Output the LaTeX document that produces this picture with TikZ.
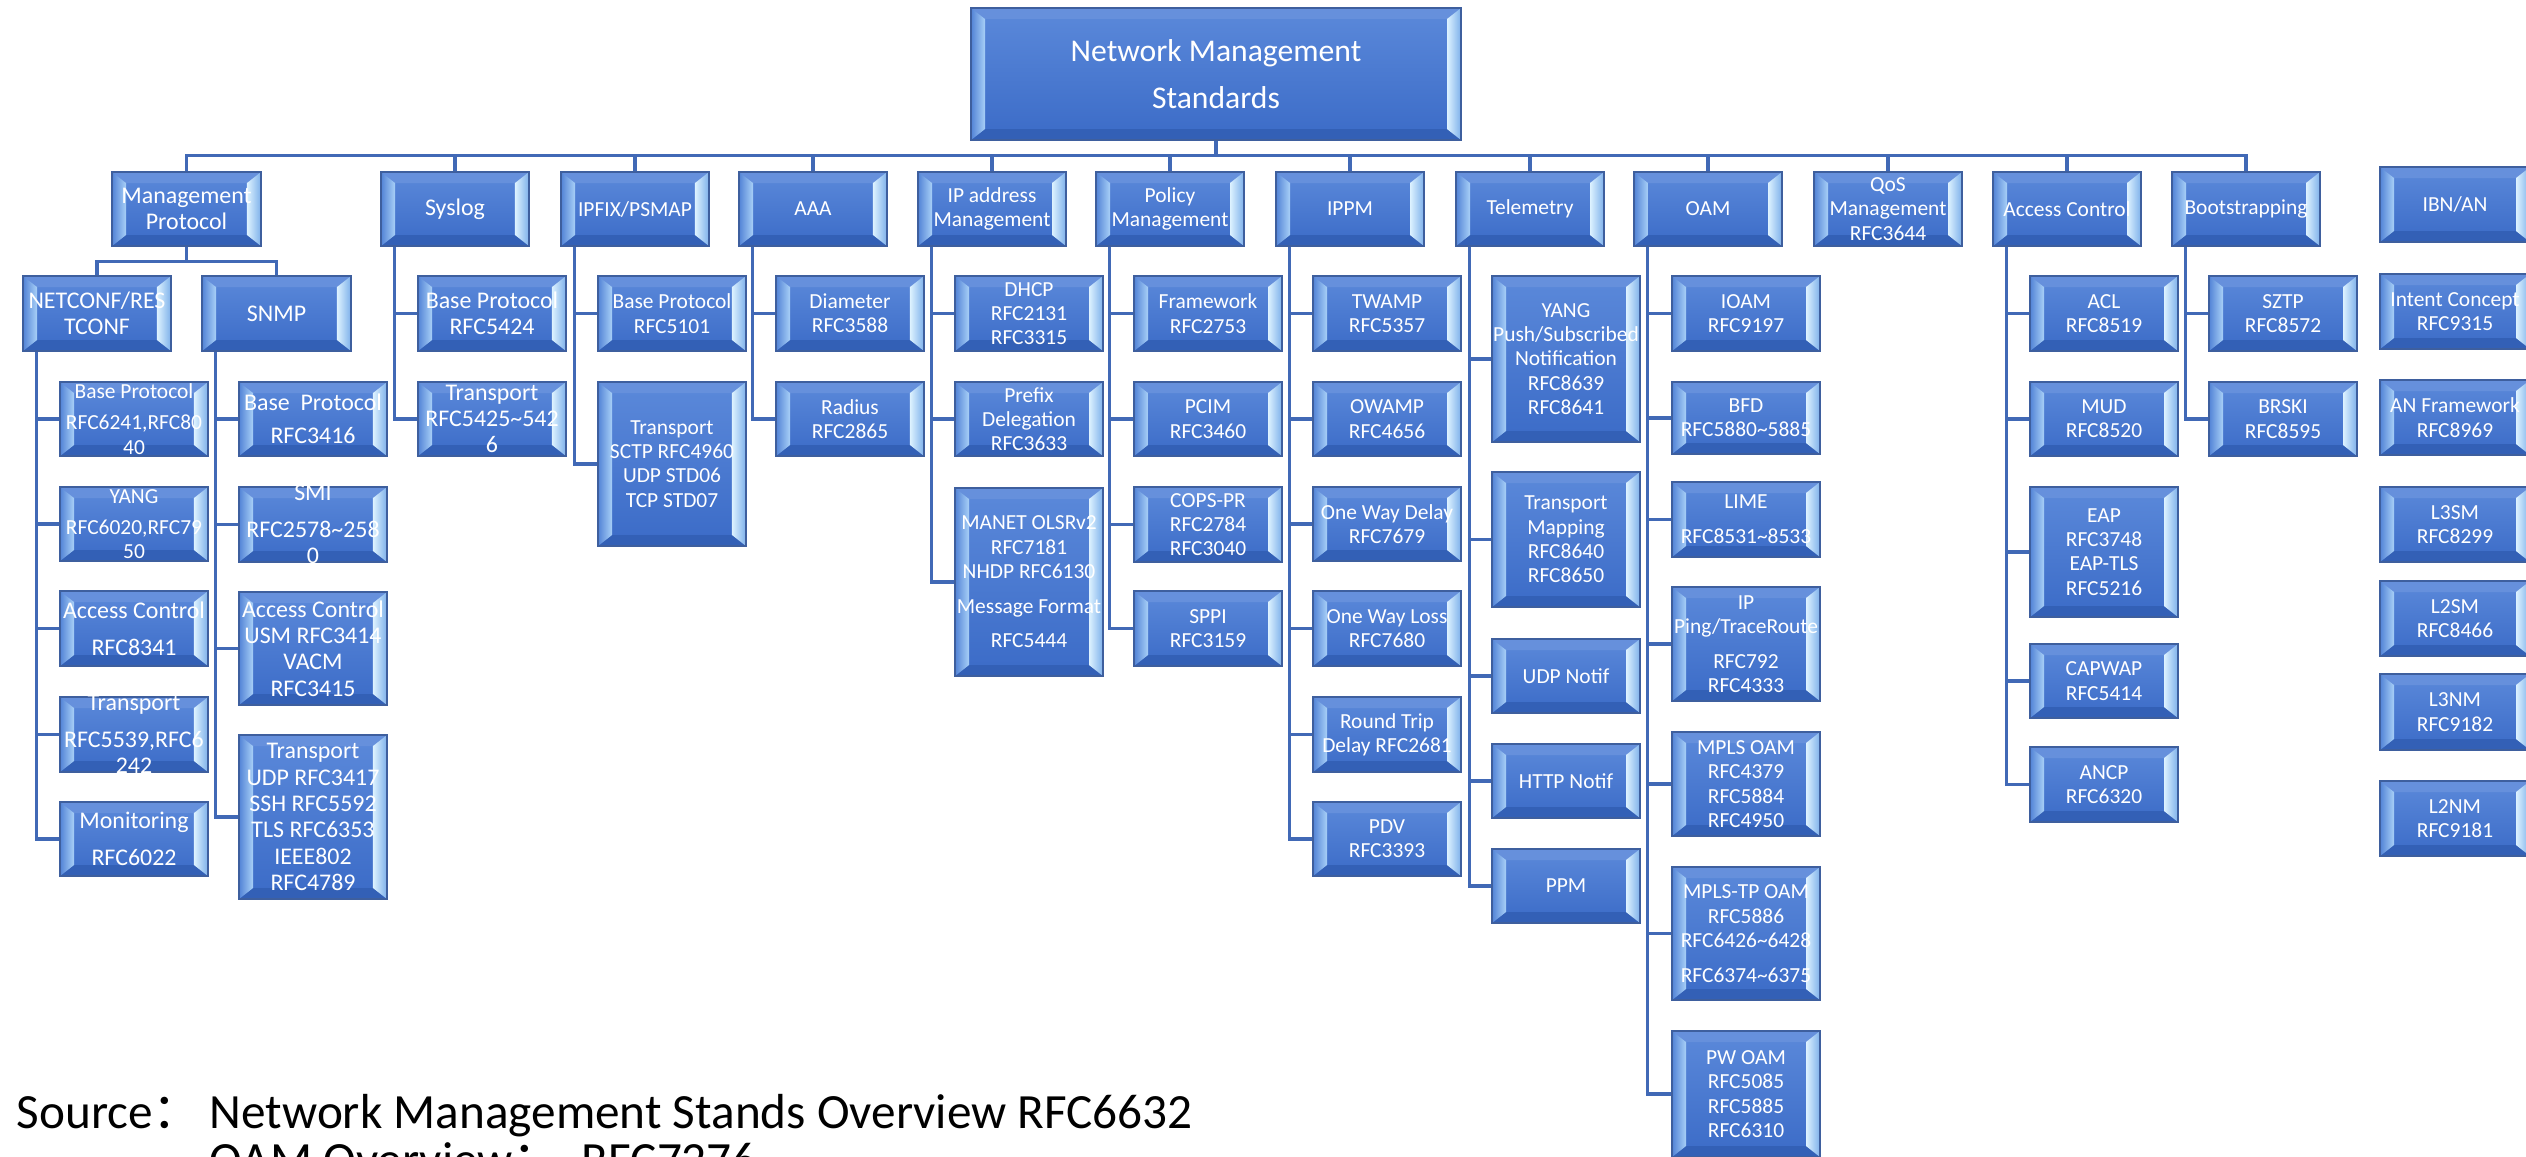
\documentclass[tikz,border=0pt]{standalone}
\usepackage{fontspec}
\setmainfont{Carlito}
\newfontfamily\cjk{Noto Sans CJK SC}

% box and connector colours
\definecolor{bxtop}{HTML}{5B89DA}
\definecolor{bxbot}{HTML}{3B6BC7}
\definecolor{bxborder}{HTML}{3E5F9E}
\definecolor{bevLo}{HTML}{5283D6}
\definecolor{bevLi}{HTML}{A8D0F7}
\definecolor{bevRi}{HTML}{DDF2FF}
\definecolor{bevRo}{HTML}{7DB0EA}
\definecolor{bevT}{HTML}{6690DC}
\definecolor{bevB}{HTML}{3360B6}
\definecolor{connc}{HTML}{4169B6}

% text sizes
\newcommand\fsA{\fontsize{6.1}{6.9}\selectfont}
\newcommand\fsB{\fontsize{6.8}{7.5}\selectfont}
\newcommand\fsR{\fontsize{9}{13.5}\selectfont}
\newcommand\fsS{\fontsize{14}{17}\selectfont}

% bevel insets
\def\bvlH{0.14cm}
\def\bvlV{0.11cm}

\tikzset{
  bx/.style={rectangle, draw=bxborder, line width=0.4pt, inner sep=0pt,
    top color=bxtop, bottom color=bxbot,
    path picture={
      \path (path picture bounding box.south west) coordinate (pSW)
            (path picture bounding box.north east) coordinate (pNE)
            (path picture bounding box.north west) coordinate (pNW)
            (path picture bounding box.south east) coordinate (pSE);
      \fill[bevT] (pNW) -- (pNE) -- ([shift={(-\bvlH,-\bvlV)}]pNE) -- ([shift={(\bvlH,-\bvlV)}]pNW) -- cycle;
      \fill[bevB] (pSW) -- (pSE) -- ([shift={(-\bvlH,\bvlV)}]pSE) -- ([shift={(\bvlH,\bvlV)}]pSW) -- cycle;
      \shade[left color=bevLo, right color=bevLi] (pSW) -- (pNW) -- ([shift={(\bvlH,-\bvlV)}]pNW) -- ([shift={(\bvlH,\bvlV)}]pSW) -- cycle;
      \shade[left color=bevRi, right color=bevRo] (pSE) -- (pNE) -- ([shift={(-\bvlH,-\bvlV)}]pNE) -- ([shift={(-\bvlH,\bvlV)}]pSE) -- cycle;
    }},
  txt/.style={text=white, align=center, inner sep=0pt, font=\fsA},
  conn/.style={draw=connc, line width=0.95pt},
}

% [text options]{name}{left}{top}{width}{height}{text}, in pixel units
\newcommand\mkbox[7][]{%
  \node[bx, minimum width=#5*0.01cm, minimum height=#6*0.01cm] (#2) at ({#3+#5/2},{#4+#6/2}) {};
  \node[txt,#1] (#2-t) at (#2.center) {#7};}

\begin{document}
\begin{tikzpicture}[x=0.01cm,y=-0.01cm]
\useasboundingbox (0,0) rectangle (2526,1156);
\fill[white] (0,0) rectangle (2526,1156);
\clip (0,0) rectangle (2526,1156);

% root
\mkbox[font=\fsR]{root}{971}{8}{490}{132}{Network Management\\Standards}

% first level
\mkbox[font=\fsB]{mp}{112}{172}{149}{74}{Management\\Protocol}
\mkbox[font=\fsB]{sys}{381}{172}{148}{74}{Syslog}
\mkbox{ipfix}{561}{172}{148}{74}{IPFIX/PSMAP}
\mkbox{aaa}{739}{172}{148}{74}{AAA}
\mkbox{ipm}{918}{172}{148}{74}{IP address\\Management}
\mkbox{pol}{1096}{172}{148}{74}{Policy\\Management}
\mkbox{ippm}{1276}{172}{148}{74}{IPPM}
\mkbox{tel}{1456}{172}{148}{74}{Telemetry}
\mkbox{oam}{1634}{172}{148}{74}{OAM}
\mkbox{qos}{1814}{172}{148}{74}{QoS\\Management\\RFC3644}
\mkbox{acc}{1993}{172}{148}{74}{Access Control}
\mkbox{boot}{2172}{172}{148}{74}{Bootstrapping}

% management protocol
\mkbox[font=\fsB]{nc}{23}{276}{148}{75}{NETCONF/RES\\TCONF}
\mkbox[font=\fsB]{snmp}{202}{276}{149}{75}{SNMP}

\mkbox{nc1}{60}{382}{148}{74}{Base Protocol\\[2pt]RFC6241,RFC80\\40}
\mkbox{nc2}{60}{487}{148}{74}{YANG\\[2pt]RFC6020,RFC79\\50}
\mkbox[font=\fsB]{nc3}{60}{591}{148}{75}{Access Control\\[3pt]RFC8341}
\mkbox[font=\fsB]{nc4}{60}{697}{148}{75}{Transport\\[3pt]RFC5539,RFC6\\242}
\mkbox[font=\fsB]{nc5}{60}{802}{148}{74}{Monitoring\\[3pt]RFC6022}

\mkbox[font=\fsB]{sn1}{239}{382}{148}{74}{Base\ \ Protocol\\[2pt]RFC3416}
\mkbox[font=\fsB]{sn2}{239}{487}{148}{75}{SMI\\[3pt]RFC2578\textasciitilde258\\0}
\mkbox[font=\fsB]{sn3}{239}{592}{148}{113}{Access Control\\USM RFC3414\\VACM\\RFC3415}
\mkbox[font=\fsB]{sn4}{239}{735}{148}{164}{Transport\\UDP RFC3417\\SSH RFC5592\\TLS RFC6353\\IEEE802\\RFC4789}

% syslog
\mkbox[font=\fsB]{sy1}{418}{276}{148}{75}{Base Protocol\\RFC5424}
\mkbox[font=\fsB]{sy2}{418}{382}{148}{74}{Transport\\RFC5425\textasciitilde542\\6}

% ipfix
\mkbox{ix1}{598}{276}{148}{75}{Base Protocol\\RFC5101}
\mkbox{ix2}{598}{382}{148}{164}{Transport\\SCTP RFC4960\\UDP STD06\\TCP STD07}

% aaa
\mkbox{aa1}{776}{276}{148}{75}{Diameter\\RFC3588}
\mkbox{aa2}{776}{382}{148}{74}{Radius\\RFC2865}

% ip address management
\mkbox{ia1}{955}{276}{148}{75}{DHCP\\RFC2131\\RFC3315}
\mkbox{ia2}{955}{382}{148}{74}{Prefix\\Delegation\\RFC3633}
\mkbox{ia3}{955}{488}{148}{188}{MANET OLSRv2\\RFC7181\\NHDP RFC6130\\[3pt]Message Format\\[3pt]RFC5444}

% policy management
\mkbox{po1}{1134}{276}{148}{75}{Framework\\RFC2753}
\mkbox{po2}{1134}{382}{148}{74}{PCIM\\RFC3460}
\mkbox{po3}{1134}{487}{148}{75}{COPS-PR\\RFC2784\\RFC3040}
\mkbox{po4}{1134}{591}{148}{75}{SPPI\\RFC3159}

% ippm
\mkbox{pp1}{1313}{276}{148}{75}{TWAMP\\RFC5357}
\mkbox{pp2}{1313}{382}{148}{74}{OWAMP\\RFC4656}
\mkbox{pp3}{1313}{487}{148}{74}{One Way Delay\\RFC7679}
\mkbox{pp4}{1313}{591}{148}{75}{One Way Loss\\RFC7680}
\mkbox{pp5}{1313}{697}{148}{75}{Round Trip\\Delay RFC2681}
\mkbox{pp6}{1313}{802}{148}{74}{PDV\\RFC3393}

% telemetry
\mkbox{te1}{1492}{276}{148}{166}{YANG\\Push/Subscribed\\Notification\\RFC8639\\RFC8641}
\mkbox{te2}{1492}{472}{148}{135}{Transport\\Mapping\\RFC8640\\RFC8650}
\mkbox{te3}{1492}{639}{148}{74}{UDP Notif}
\mkbox{te4}{1492}{744}{148}{74}{HTTP Notif}
\mkbox{te5}{1492}{849}{148}{74}{PPM}

% oam
\mkbox{oa1}{1672}{276}{148}{75}{IOAM\\RFC9197}
\mkbox{oa2}{1672}{382}{148}{72}{BFD\\RFC5880\textasciitilde5885}
\mkbox{oa3}{1672}{482}{148}{75}{LIME\\[3pt]RFC8531\textasciitilde8533}
\mkbox{oa4}{1672}{587}{148}{114}{IP\\Ping/TraceRoute\\[3pt]RFC792\\RFC4333}
\mkbox{oa5}{1672}{732}{148}{104}{MPLS OAM\\RFC4379\\RFC5884\\RFC4950}
\mkbox{oa6}{1672}{867}{148}{133}{MPLS-TP OAM\\RFC5886\\RFC6426\textasciitilde6428\\[3pt]RFC6374\textasciitilde6375}
\mkbox{oa7}{1672}{1031}{148}{126}{PW OAM\\RFC5085\\RFC5885\\RFC6310}

% access control
\mkbox{ac1}{2030}{276}{148}{75}{ACL\\RFC8519}
\mkbox{ac2}{2030}{382}{148}{74}{MUD\\RFC8520}
\mkbox{ac3}{2030}{487}{148}{130}{EAP\\RFC3748\\EAP-TLS\\RFC5216}
\mkbox{ac4}{2030}{644}{148}{74}{CAPWAP\\RFC5414}
\mkbox{ac5}{2030}{747}{148}{75}{ANCP\\RFC6320}

% bootstrapping
\mkbox{bo1}{2209}{276}{148}{75}{SZTP\\RFC8572}
\mkbox{bo2}{2209}{382}{148}{74}{BRSKI\\RFC8595}

% ibn/an column
\mkbox{ibn}{2380}{167}{150}{75}{IBN/AN}
\mkbox{ib1}{2380}{274}{150}{75}{Intent Concept\\RFC9315}
\mkbox{ib2}{2380}{380}{150}{75}{AN Framework\\RFC8969}
\mkbox{ib3}{2380}{487}{150}{75}{L3SM\\RFC8299}
\mkbox{ib4}{2380}{581}{150}{75}{L2SM\\RFC8466}
\mkbox{ib5}{2380}{674}{150}{76}{L3NM\\RFC9182}
\mkbox{ib6}{2380}{781}{150}{75}{L2NM\\RFC9181}

% connectors: root to first level
\foreach \t in {mp,sys,ipfix,aaa,ipm,pol,ippm,tel,oam,qos,acc,boot}
  \draw[conn] (root.south) -- ++(0,15) -| (\t.north);
\foreach \t in {nc,snmp}
  \draw[conn] (mp.south) -- ++(0,15) -| (\t.north);

% connectors: parent to listed children
\foreach \p/\cs in {nc/{nc1,nc2,nc3,nc4,nc5}, snmp/{sn1,sn2,sn3,sn4},
    sys/{sy1,sy2}, ipfix/{ix1,ix2}, aaa/{aa1,aa2}, ipm/{ia1,ia2,ia3},
    pol/{po1,po2,po3,po4}, ippm/{pp1,pp2,pp3,pp4,pp5,pp6},
    tel/{te1,te2,te3,te4,te5}, oam/{oa1,oa2,oa3,oa4,oa5,oa6,oa7},
    acc/{ac1,ac2,ac3,ac4,ac5}, boot/{bo1,bo2}}
  \foreach \c in \cs
    \draw[conn] ([xshift=0.14cm]\p.south west) |- (\c.west);

% sources
\node[anchor=base west, inner sep=0pt, font=\fsS] (srcA) at (16,1128) {Source{\cjk ：}};
\node[anchor=base west, inner sep=0pt, font=\fsS] (srcB) at (209,1128) {Network Management Stands Overview RFC6632};
\node[anchor=base west, inner sep=0pt, font=\fsS] (srcC) at (209,1176) {OAM Overview{\cjk ：}\hspace{0.4em}RFC7276};
\end{tikzpicture}
\end{document}
